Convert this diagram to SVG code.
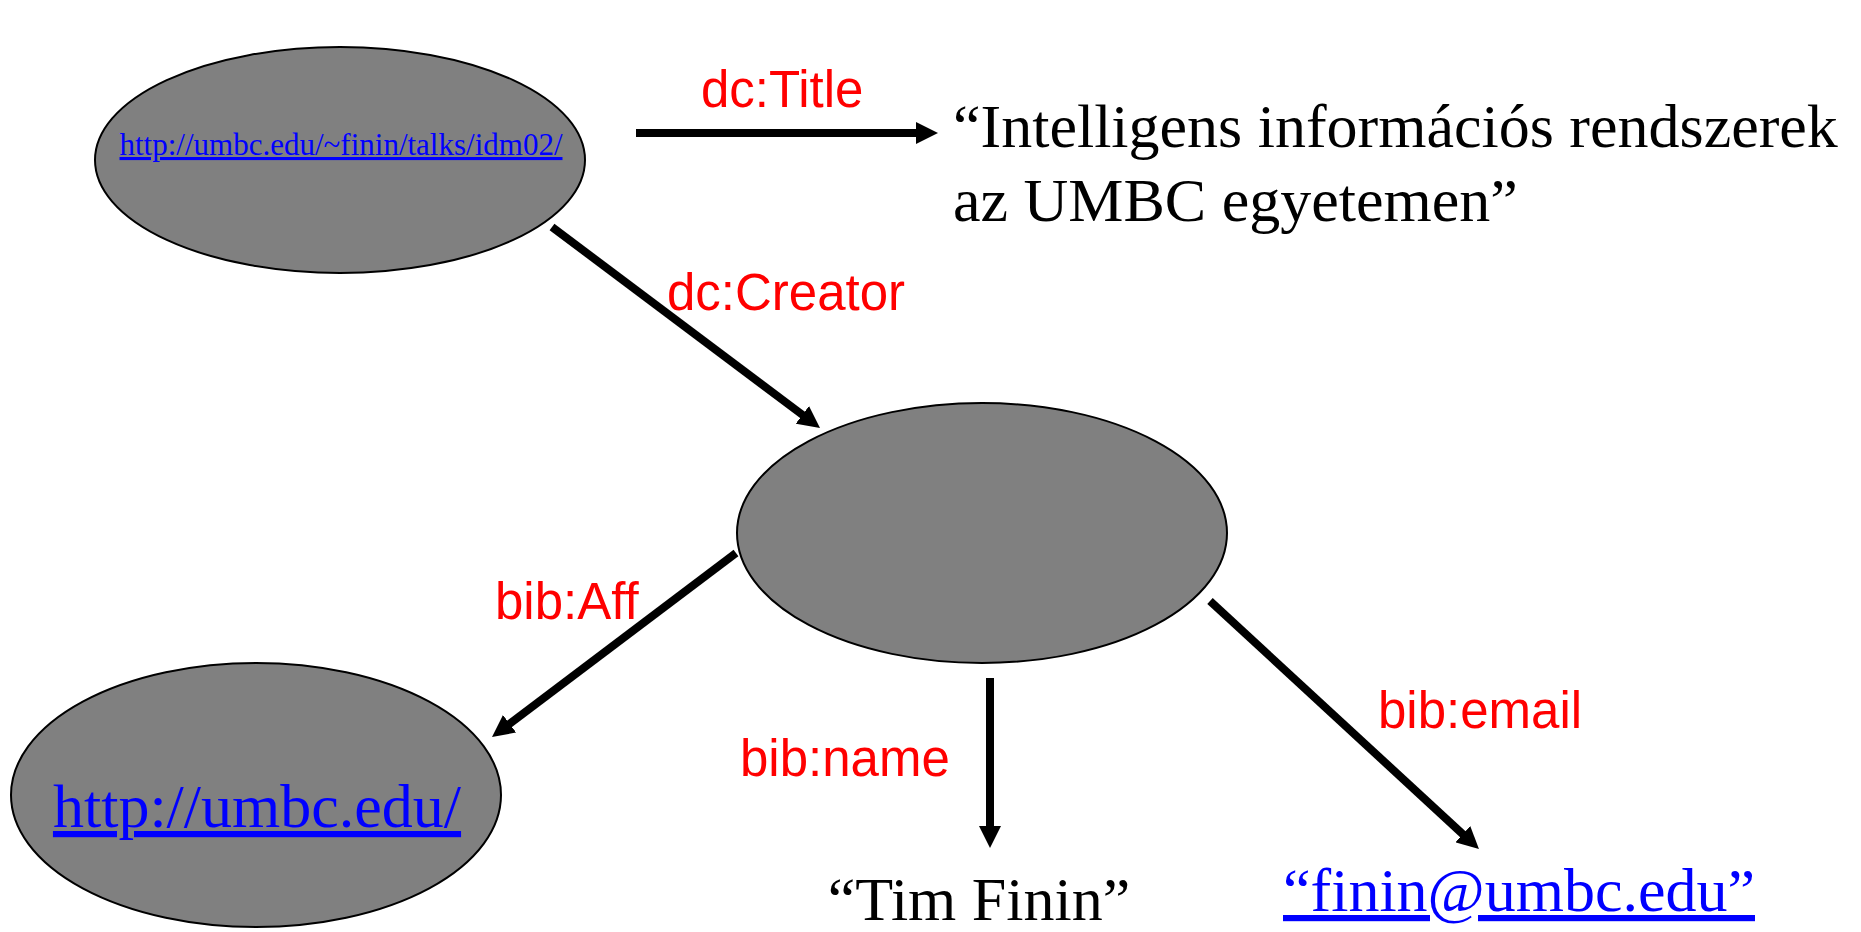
<svg xmlns="http://www.w3.org/2000/svg" width="1861" height="932" viewBox="0 0 1861 932">
  <style>
    .node { fill: #808080; stroke: #000; stroke-width: 2; }
    .edge { stroke: #000; stroke-width: 8; fill: none; marker-end: url(#arrow); }
    .lbl { font-family: "Liberation Sans", Arial, sans-serif; font-size: 51px; fill: #ff0000; }
    .lit { font-family: "Liberation Serif", "Times New Roman", serif; font-size: 62px; fill: #000; }
    .link { font-family: "Liberation Serif", "Times New Roman", serif; fill: #0000ff; text-decoration: underline; }
  </style>
  <defs>
    <marker id="arrow" markerUnits="userSpaceOnUse" markerWidth="22" markerHeight="22" viewBox="0 0 22 22" refX="6" refY="11" orient="auto">
      <path d="M0,0 L22,11 L0,22 z" fill="#000"/>
    </marker>
  </defs>
  <rect width="1861" height="932" fill="#fff"/>

  <g id="connectors">
    <line class="edge" x1="636" y1="133" x2="922" y2="133"/>
    <line class="edge" x1="552" y1="227" x2="807.2" y2="418.4"/>
    <line class="edge" x1="736" y1="553" x2="504.8" y2="727.4"/>
    <line class="edge" x1="990" y1="678" x2="990" y2="832"/>
    <line class="edge" x1="1210" y1="601" x2="1467.2" y2="838.2"/>
    <text class="lbl" x="701" y="107">dc:Title</text>
    <text class="lbl" x="667" y="310">dc:Creator</text>
    <text class="lbl" x="495" y="619">bib:Aff</text>
    <text class="lbl" x="740" y="776">bib:name</text>
    <text class="lbl" x="1378" y="728">bib:email</text>
  </g>

  <g id="node-talk">
    <ellipse class="node" cx="340" cy="160" rx="245" ry="113"/>
    <text class="link" x="341" y="155" font-size="31" text-anchor="middle">http://umbc.edu/~finin/talks/idm02/</text>
  </g>

  <g id="node-title">
    <text class="lit" x="953" y="147">“Intelligens információs rendszerek</text>
    <text class="lit" x="953" y="221">az UMBC egyetemen”</text>
  </g>

  <g id="node-creator">
    <ellipse class="node" cx="982" cy="533" rx="245" ry="130"/>
  </g>

  <g id="node-umbc">
    <ellipse class="node" cx="256" cy="795" rx="245" ry="132"/>
    <text class="link" x="257" y="827" font-size="62" text-anchor="middle">http://umbc.edu/</text>
  </g>

  <g id="node-name">
    <text class="lit" x="979" y="920" text-anchor="middle">“Tim Finin”</text>
  </g>

  <g id="node-email">
    <text class="link" x="1519" y="911" font-size="62" text-anchor="middle">“finin@umbc.edu”</text>
  </g>
</svg>
